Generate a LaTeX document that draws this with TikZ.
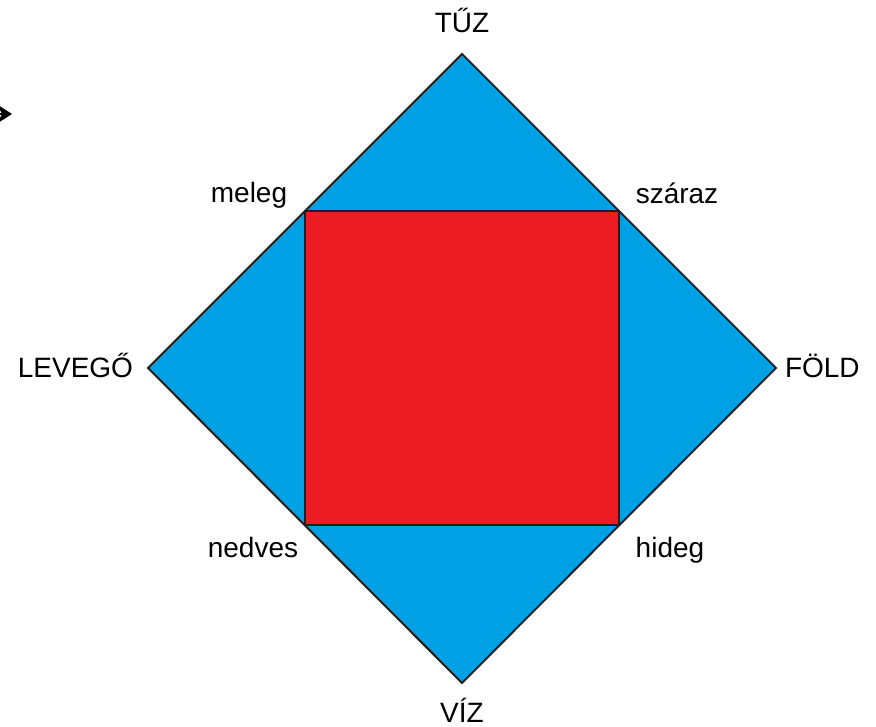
\documentclass[tikz,border=0pt]{standalone}
\usepackage{fontspec}
\setmainfont{Liberation Sans}
\usetikzlibrary{arrows.meta}
\definecolor{elemblue}{RGB}{0,161,228}
\definecolor{elemred}{RGB}{237,28,36}
\definecolor{edgegray}{RGB}{35,31,32}

\begin{document}
\begin{tikzpicture}[x=0.75pt,y=-0.75pt,line width=1.5pt,
  lbl/.style={font=\fontsize{21}{25}\selectfont,inner sep=0pt,anchor=base}]
\useasboundingbox (0,0) rectangle (876,727);

% corners of the diamond
\coordinate (Tuz) at (462,54);
\coordinate (Fold) at (776,368);
\coordinate (Viz) at (462,683);
\coordinate (Levego) at (148,368);

% corners of the square
\coordinate (Meleg) at (305,211);
\coordinate (Hideg) at (619,525);

\draw[fill=elemblue,draw=edgegray,line join=miter] (Tuz) -- (Fold) -- (Viz) -- (Levego) -- cycle;
\draw[fill=elemred,draw=edgegray] (Meleg) rectangle (Hideg);

\node[lbl] (TuzLabel) at (462,33) {TŰZ};
\node[lbl] (VizLabel) at (462,722) {VÍZ};
\node[lbl,anchor=base east] (LevegoLabel) at (134,378) {LEVEGŐ};
\node[lbl,anchor=base west] (FoldLabel) at (784,378) {FÖLD};

\node[lbl] (MelegLabel) at (249,203) {meleg};
\node[lbl] (SzarazLabel) at (677,204) {száraz};
\node[lbl] (NedvesLabel) at (253,558) {nedves};
\node[lbl] (HidegLabel) at (670,558) {hideg};

% stray arrow at the left edge
\coordinate (StubA) at (-8,114);
\coordinate (StubB) at (12,114);
\draw[-{Stealth[length=11pt,width=14pt]},line width=1.2pt] (StubA) -- (StubB);

\end{tikzpicture}
\end{document}
